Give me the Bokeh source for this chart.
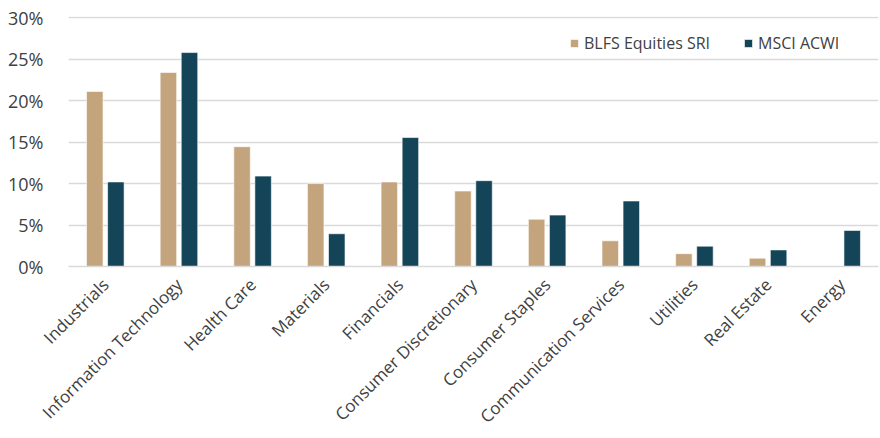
import math

from bokeh.embed import file_html
from bokeh.models import ColumnDataSource, FixedTicker, Legend, LegendItem, Range1d
from bokeh.plotting import figure
from bokeh.resources import INLINE
from bokeh.transform import dodge

# Sector weights (%) of the fund versus its benchmark
sectors = [
    "Industrials",
    "Information Technology",
    "Health Care",
    "Materials",
    "Financials",
    "Consumer Discretionary",
    "Consumer Staples",
    "Communication Services",
    "Utilities",
    "Real Estate",
    "Energy",
]
blfs_sri = [21.1, 23.4, 14.45, 10.0, 10.2, 9.1, 5.7, 3.1, 1.55, 1.0, 0.0]
msci_acwi = [10.2, 25.8, 10.9, 3.95, 15.55, 10.35, 6.2, 7.9, 2.45, 2.0, 4.35]
series_names = ["BLFS Equities SRI", "MSCI ACWI"]
y_ticks = [0, 5, 10, 15, 20, 25, 30]

TAN = "#C4A47C"
NAVY = "#134457"
GRID = "#D9D9D9"
TEXT = "#404040"
FONT = "Open Sans"

source = ColumnDataSource(dict(sector=sectors, blfs=blfs_sri, msci=msci_acwi))

p = figure(
    width=880,
    height=438,
    x_range=sectors,
    y_range=Range1d(0, 30.15),
    output_backend="svg",
    toolbar_location=None,
    min_border_left=68,
    min_border_right=2,
    min_border_top=16,
    min_border_bottom=172,
)
p.outline_line_color = None
p.background_fill_color = "white"
p.border_fill_color = "white"
p.x_range.range_padding = 0

bar_w = 0.224
offset = 0.143
r_blfs = p.vbar(
    x=dodge("sector", -offset, range=p.x_range),
    top="blfs",
    width=bar_w,
    source=source,
    fill_color=TAN,
    line_color="white",
    line_width=0.6,
)
r_msci = p.vbar(
    x=dodge("sector", offset, range=p.x_range),
    top="msci",
    width=bar_w,
    source=source,
    fill_color=NAVY,
    line_color="white",
    line_width=0.6,
)

# Y axis: percentage labels only, horizontal grid lines
p.yaxis.ticker = FixedTicker(ticks=y_ticks)
p.yaxis.major_label_overrides = {t: f"{t}%" for t in y_ticks}
p.yaxis.axis_line_color = None
p.yaxis.major_tick_line_color = None
p.yaxis.minor_tick_line_color = None
p.yaxis.major_label_standoff = 19
p.yaxis.major_label_text_font = FONT
p.yaxis.major_label_text_font_size = "18px"
p.yaxis.major_label_text_color = TEXT
p.ygrid.grid_line_color = GRID
p.ygrid.grid_line_width = 1.5
p.xgrid.grid_line_color = None

# X axis: grey baseline with rotated sector names
p.xaxis.axis_line_color = GRID
p.xaxis.axis_line_width = 1.5
p.xaxis.major_tick_line_color = None
p.xaxis.minor_tick_line_color = None
p.xaxis.major_label_orientation = math.pi / 4
p.xaxis.major_label_standoff = 9
p.xaxis.major_label_text_font = FONT
p.xaxis.major_label_text_font_size = "17px"
p.xaxis.major_label_text_color = TEXT

legend = Legend(
    items=[
        LegendItem(label=series_names[0], renderers=[r_blfs]),
        LegendItem(label=series_names[1], renderers=[r_msci]),
    ],
    orientation="horizontal",
    location=(501, 212),
    glyph_width=10,
    glyph_height=10,
    label_standoff=5,
    spacing=33,
    padding=0,
    margin=0,
    border_line_color=None,
    background_fill_alpha=0,
    label_text_font=FONT,
    label_text_font_size="16px",
    label_text_color=TEXT,
)
p.add_layout(legend)

open("out.html", "w").write(file_html(p, INLINE))
